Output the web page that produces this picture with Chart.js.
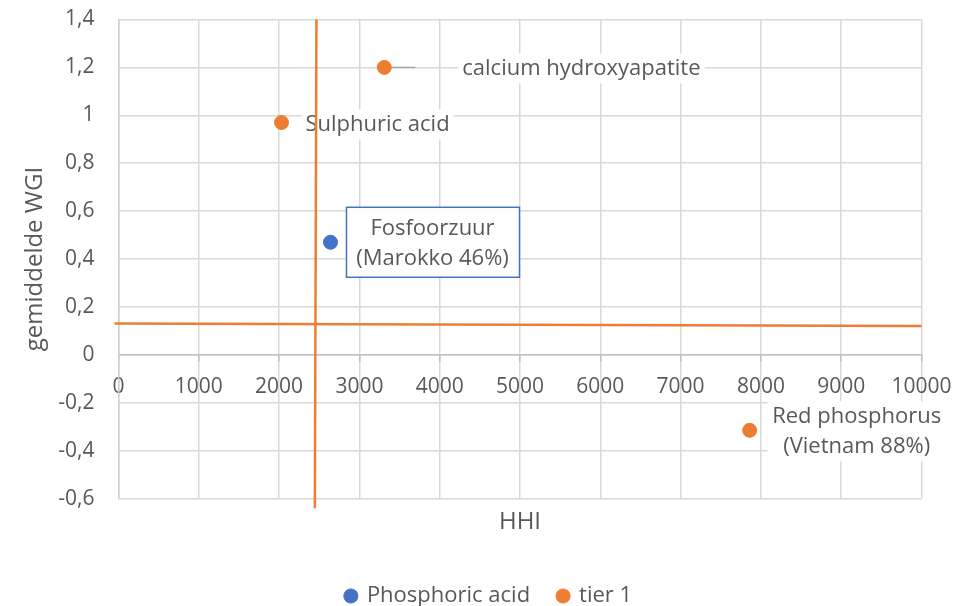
<!DOCTYPE html>
<html>
<head>
<meta charset="utf-8">
<title>HHI vs WGI</title>
<script src="https://cdn.jsdelivr.net/npm/chart.js@4/dist/chart.umd.min.js"></script>
<style>
  body { margin: 0; background: #fff; }
</style>
</head>
<body>
<canvas id="chart" width="978" height="606"></canvas>
<script>
// data
const phosphoricAcid = [{ x: 2640, y: 0.47 }];
const tier1 = [{ x: 3310, y: 1.2 }, { x: 2030, y: 0.97 }, { x: 7860, y: -0.315 }];
const hhiThreshold = [{ x: 2465, y: 1.4 }, { x: 2445, y: -0.64 }];
const wgiThreshold = [{ x: -50, y: 0.131 }, { x: 10000, y: 0.121 }];

const phosphoricLabels = [['Fosfoorzuur', '(Marokko 46%)']];
const tier1Labels = [['calcium hydroxyapatite'], ['Sulphuric acid'], ['Red phosphorus', '(Vietnam 88%)']];

const xTickLabels = ['0', '1000', '2000', '3000', '4000', '5000', '6000', '7000', '8000', '9000', '10000'];
const yTickLabels = ['-0,6', '-0,4', '-0,2', '0', '0,2', '0,4', '0,6', '0,8', '1', '1,2', '1,4'];

const BLUE = '#4472C4';
const ORANGE = '#ED7D31';
const TEXT = '#595959';
const FONT = 'Open Sans';

// placement of each data label relative to its point
const labelStyle = {
  0: [{ dx: 102, dy: -14, align: 'center', box: { l: 16, r: 189, t: -35, b: 35 } }],
  1: [
    { dx: 78, dy: 1, align: 'left', leader: 31 },
    { dx: 24, dy: 2, align: 'left' },
    { dx: 107, dy: -14, align: 'center' }
  ]
};
const labelTexts = { 0: phosphoricLabels, 1: tier1Labels };

const dataLabels = {
  id: 'dataLabels',
  beforeDatasetsDraw(chart) {
    const ctx = chart.ctx;
    ctx.save();
    ctx.font = '22px "' + FONT + '"';
    ctx.textBaseline = 'middle';
    Object.keys(labelTexts).forEach(di => {
      const meta = chart.getDatasetMeta(Number(di));
      meta.data.forEach((pt, i) => {
        const st = labelStyle[di][i];
        const lines = labelTexts[di][i];
        const x = pt.x + st.dx;
        const y0 = pt.y + st.dy;
        const lh = 30;
        if (st.leader) {
          ctx.strokeStyle = '#a6a6a6';
          ctx.lineWidth = 1.5;
          ctx.beginPath();
          ctx.moveTo(pt.x, pt.y);
          ctx.lineTo(pt.x + st.leader, pt.y);
          ctx.stroke();
        }
        if (st.box) {
          ctx.fillStyle = '#fff';
          ctx.fillRect(pt.x + st.box.l, pt.y + st.box.t, st.box.r - st.box.l, st.box.b - st.box.t);
          ctx.strokeStyle = BLUE;
          ctx.lineWidth = 1.5;
          ctx.strokeRect(pt.x + st.box.l, pt.y + st.box.t, st.box.r - st.box.l, st.box.b - st.box.t);
        } else {
          // white background behind the text, like the Excel labels
          const w = Math.max(...lines.map(s => ctx.measureText(s).width));
          const left = st.align === 'center' ? x - w / 2 : x;
          ctx.fillStyle = '#fff';
          ctx.fillRect(left - 4, y0 - lh / 2, w + 8, lh * lines.length);
        }
        ctx.fillStyle = TEXT;
        ctx.textAlign = st.align;
        lines.forEach((s, k) => ctx.fillText(s, x, y0 + k * lh));
      });
    });
    ctx.restore();
  }
};

const ctx = document.getElementById('chart').getContext('2d');
new Chart(ctx, {
  type: 'scatter',
  data: {
    datasets: [
      {
        label: 'Phosphoric acid',
        data: phosphoricAcid,
        backgroundColor: BLUE,
        borderColor: BLUE,
        pointRadius: 7,
        borderWidth: 1
      },
      {
        label: 'tier 1',
        data: tier1,
        backgroundColor: ORANGE,
        borderColor: ORANGE,
        pointRadius: 7,
        borderWidth: 1
      },
      {
        label: 'hhi',
        data: hhiThreshold,
        showLine: true,
        pointRadius: 0,
        borderColor: ORANGE,
        borderWidth: 2.5,
        clip: false
      },
      {
        label: 'wgi',
        data: wgiThreshold,
        showLine: true,
        pointRadius: 0,
        borderColor: ORANGE,
        borderWidth: 2.5,
        clip: false
      }
    ]
  },
  options: {
    responsive: false,
    animation: false,
    layout: { padding: { top: 19.5, right: 0, left: 0, bottom: -11 } },
    scales: {
      x: {
        type: 'linear',
        position: { y: 0 },
        min: 0,
        max: 10000,
        ticks: {
          stepSize: 1000,
          padding: 14,
          color: TEXT,
          font: { family: FONT, size: 21 },
          maxRotation: 0,
          callback: (v, i) => xTickLabels[i]
        },
        grid: { color: '#d9d9d9', lineWidth: 1.5, tickLength: 6, tickColor: '#bfbfbf' },
        border: { color: '#bfbfbf', width: 1.5 }
      },
      x2: {
        type: 'linear',
        position: 'bottom',
        min: 0,
        max: 10000,
        ticks: { display: false },
        grid: { display: false, drawTicks: false },
        border: { display: false },
        title: {
          display: true,
          text: 'HHI',
          color: TEXT,
          font: { family: FONT, size: 24 },
          padding: { top: 9, bottom: 20.6 }
        }
      },
      y: {
        min: -0.6,
        max: 1.4,
        ticks: {
          stepSize: 0.2,
          padding: 24,
          color: TEXT,
          font: { family: FONT, size: 21 },
          callback: (v, i) => yTickLabels[i]
        },
        grid: { color: '#d9d9d9', lineWidth: 1.5, drawTicks: false },
        border: { color: '#d0d0d0', width: 1.5 },
        title: {
          display: true,
          text: 'gemiddelde WGI',
          color: TEXT,
          font: { family: FONT, size: 24 },
          padding: { top: 20.6, bottom: 9 }
        },
        afterFit(scale) {
          scale.width = 118.5;
          scale.paddingTop = 12;
          scale.paddingBottom = 12;
        }
      },
      // empty axis on the right, only keeps the right margin
      y2: {
        type: 'linear',
        position: 'right',
        min: -0.6,
        max: 1.4,
        ticks: { display: false },
        grid: { display: false, drawTicks: false },
        border: { display: false },
        afterFit(scale) {
          scale.width = 56.5;
        }
      }
    },
    plugins: {
      legend: {
        position: 'bottom',
        labels: {
          usePointStyle: true,
          pointStyle: 'circle',
          boxWidth: 10,
          boxHeight: 10,
          padding: 28,
          color: TEXT,
          font: { family: FONT, size: 22 },
          filter: item => item.datasetIndex < 2
        }
      },
      tooltip: { enabled: false }
    }
  },
  plugins: [dataLabels]
});
</script>
</body>
</html>
